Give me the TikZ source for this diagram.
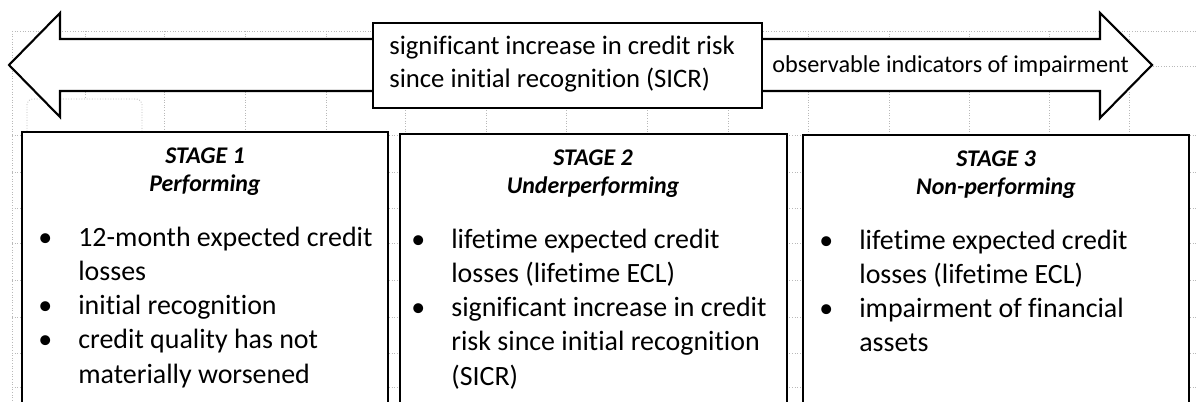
\documentclass[tikz,border=0pt]{standalone}
\usepackage{fontspec}
\setmainfont{Carlito}[Ligatures=NoCommon]
\usetikzlibrary{fit}

\tikzset{
  gridline/.style={gray!55, densely dotted, line width=0.5pt},
  frame/.style={draw, line width=1.2pt, fill=white, inner sep=0pt},
  bodytext/.style={anchor=base west, inner sep=0pt, font=\fontsize{15.9}{19.5}\selectfont},
  titletext/.style={anchor=base, inner sep=0pt, font=\fontsize{13.6}{16.4}\selectfont\bfseries\itshape},
}

\begin{document}
\begin{tikzpicture}[x=0.02cm,y=-0.02cm]
\useasboundingbox (0,0) rectangle (1196,402);
\clip (0,0) rectangle (1196,402);

% sheet grid
\foreach \x in {12,85,164,245,326,405,486,566,647,728,808,889,969,1049,1129}
  \draw[gridline] (\x,31) -- (\x,402);
\foreach \y in {31,66,135,172,208,243,280,317,353,387}
  \draw[gridline] (12,\y) -- (1196,\y);
\draw[gridline, fill=white, rounded corners=3pt] (27,134) -- (27,99) -- (142,99) -- (142,134);

% double arrow
\draw[line width=1.2pt, fill=white] (60,39) -- (1100,39) -- (1100,13) -- (1152,65) -- (1100,118)
  -- (1100,91) -- (60,91) -- (60,117) -- (9,65) -- (60,13) -- cycle;
\node[frame, fit={(373,23) (762,108)}] (sicr) {};
\node[bodytext, font=\fontsize{15.2}{18.7}\selectfont] (sicrtext) at (389,55)
  {\begin{tabular}[t]{@{}l@{}}significant increase in credit risk\\since initial recognition (SICR)\end{tabular}};
\node[bodytext, font=\fontsize{13.8}{16}\selectfont] (impair) at (772,72) {observable indicators of impairment};

% stages
\node[frame, fit={(22,132) (388,430)}] (stage1) {};
\node[frame, fit={(400,134) (787,430)}] (stage2) {};
\node[frame, fit={(803,135) (1189,430)}] (stage3) {};

\node[titletext] (title1) at (205,163) {\begin{tabular}[t]{@{}c@{}}STAGE 1\\Performing\end{tabular}};
\node[titletext] (title2) at (593,165) {\begin{tabular}[t]{@{}c@{}}STAGE 2\\Underperforming\end{tabular}};
\node[titletext] (title3) at (996,166) {\begin{tabular}[t]{@{}c@{}}STAGE 3\\Non-performing\end{tabular}};

\node[bodytext] (list1) at (38,246) {\begin{tabular}[t]{@{}p{0.8cm}@{}l@{}}
  \textbullet & 12-month expected credit\\
              & losses\\
  \textbullet & initial recognition\\
  \textbullet & credit quality has not\\
              & materially worsened
\end{tabular}};
\node[bodytext] (list2) at (411,248) {\begin{tabular}[t]{@{}p{0.8cm}@{}l@{}}
  \textbullet & lifetime expected credit\\
              & losses (lifetime ECL)\\
  \textbullet & significant increase in credit\\
              & risk since initial recognition\\
              & (SICR)
\end{tabular}};
\node[bodytext] (list3) at (819,249) {\begin{tabular}[t]{@{}p{0.8cm}@{}l@{}}
  \textbullet & lifetime expected credit\\
              & losses (lifetime ECL)\\
  \textbullet & impairment of financial\\
              & assets
\end{tabular}};
\end{tikzpicture}
\end{document}
